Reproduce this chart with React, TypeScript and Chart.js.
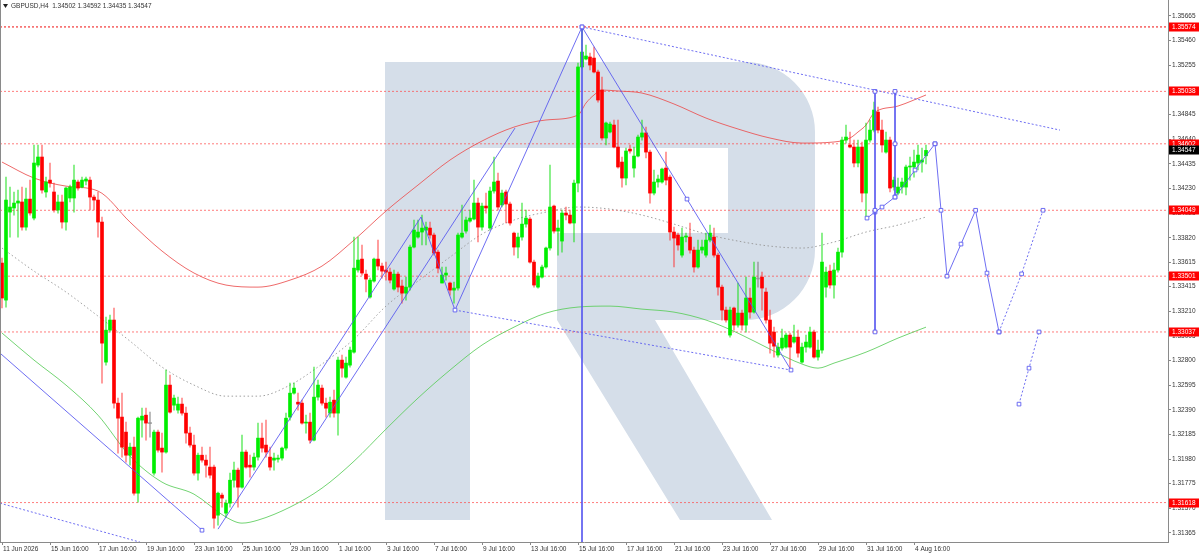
import React, { useEffect, useRef } from "react";
import { Chart, registerables } from "chart.js";

Chart.register(...registerables);

const FONT = "'Liberation Sans', Arial, sans-serif";
const SYMBOL = "GBPUSD,H4";

// ---- candles (H4), first bar = 11 Jun 2026 16:00 ----
const OPEN = [
  1.3361, 1.33302, 1.34034, 1.34068, 1.34109, 1.34118, 1.33909, 1.34142, 1.33984, 1.34425,
  1.34492, 1.34201, 1.343, 1.34201, 1.34051, 1.34118, 1.33951, 1.34151, 1.34151, 1.34284,
  1.34242, 1.34292, 1.343, 1.34159, 1.34134, 1.33951, 1.32786, 1.33052, 1.33136, 1.32445,
  1.32329, 1.32204, 1.32012, 1.32079, 1.31696, 1.32304, 1.32345, 1.32275, 1.31863, 1.32204,
  1.32071, 1.32038, 1.32595, 1.32428, 1.32387, 1.32437, 1.32362, 1.32196, 1.32096, 1.31863,
  1.32012, 1.31971, 1.31913, 1.31913, 1.31513, 1.3168, 1.3153, 1.31613, 1.31804, 1.31888,
  1.31746, 1.32038, 1.31929, 1.31913, 1.31996, 1.32154, 1.32096, 1.31996, 1.31971, 1.31979,
  1.31988, 1.32071, 1.32329, 1.32528, 1.32453, 1.32445, 1.32279, 1.32287, 1.32137, 1.32495,
  1.3257, 1.32445, 1.32362, 1.3247, 1.32362, 1.32803, 1.32661, 1.32761, 1.32869, 1.33552,
  1.33643, 1.33518, 1.33327, 1.3346, 1.33643, 1.33585, 1.33552, 1.33535, 1.33394, 1.33518,
  1.33419, 1.3336, 1.3341, 1.33743, 1.33826, 1.33868, 1.33884, 1.33901, 1.33843, 1.33701,
  1.33444, 1.3351, 1.33444, 1.33385, 1.33402, 1.33826, 1.33876, 1.33959, 1.33976, 1.34109,
  1.33909, 1.34084, 1.33901, 1.34209, 1.34292, 1.34093, 1.34201, 1.34101, 1.33859, 1.33743,
  1.33826, 1.33934, 1.33976, 1.33618, 1.3341, 1.33493, 1.33577, 1.33735, 1.34084, 1.33876,
  1.33793, 1.34026, 1.34009, 1.33943, 1.34275, 1.35241, 1.35307, 1.35324, 1.35315, 1.35199,
  1.35049, 1.3465, 1.347, 1.34758, 1.34575, 1.3445, 1.34317, 1.34558, 1.344, 1.345,
  1.34658, 1.34692, 1.34533, 1.34192, 1.34284, 1.34284, 1.344, 1.34325, 1.33868, 1.33843,
  1.33676, 1.33826, 1.33826, 1.33718, 1.33577, 1.33718, 1.33676, 1.33801, 1.33826, 1.33676,
  1.3341, 1.33219, 1.33011, 1.33236, 1.33094, 1.33194, 1.33094, 1.33319, 1.33202, 1.33477,
  1.33493, 1.33369, 1.33136, 1.33036, 1.32845, 1.32903, 1.32911, 1.33011, 1.32953, 1.32994,
  1.32786, 1.32911, 1.32911, 1.33036, 1.32828, 1.32886, 1.3341, 1.33543, 1.33427, 1.33552,
  1.33701, 1.34633, 1.34592, 1.34575, 1.34442, 1.34575, 1.34192, 1.34633, 1.34716, 1.34866,
  1.34716, 1.34533, 1.34633, 1.34242, 1.34192, 1.34242, 1.34242, 1.34409, 1.34409, 1.34442,
  1.3445, 1.34502,
];
const HIGH = [
  1.33652, 1.34325, 1.34242, 1.34201, 1.34217, 1.34242, 1.34234, 1.343, 1.34592, 1.34592,
  1.34592, 1.34325, 1.34442, 1.34275, 1.34176, 1.34176, 1.34242, 1.34259, 1.34425, 1.343,
  1.34325, 1.34325, 1.34325, 1.34176, 1.34201, 1.33993, 1.33161, 1.33177, 1.33236, 1.32487,
  1.32528, 1.32287, 1.32112, 1.32162, 1.32329, 1.32403, 1.32403, 1.3237, 1.3222, 1.3222,
  1.32196, 1.3272, 1.32678, 1.32512, 1.32495, 1.32487, 1.32412, 1.32245, 1.32179, 1.32029,
  1.32079, 1.32012, 1.32079, 1.31929, 1.31705, 1.31696, 1.31638, 1.31863, 1.31954, 1.31904,
  1.32179, 1.32054, 1.32012, 1.32029, 1.32279, 1.32279, 1.32304, 1.32079, 1.32029, 1.32012,
  1.32079, 1.32362, 1.32611, 1.32611, 1.32528, 1.3247, 1.32345, 1.32362, 1.32745, 1.32636,
  1.32595, 1.32487, 1.32495, 1.32553, 1.32828, 1.32845, 1.32828, 1.32911, 1.33826, 1.33826,
  1.3376, 1.33552, 1.33485, 1.33652, 1.33801, 1.3361, 1.33618, 1.33568, 1.33552, 1.33535,
  1.33468, 1.33493, 1.3376, 1.33968, 1.33968, 1.34009, 1.33951, 1.33951, 1.33859, 1.33718,
  1.33577, 1.33577, 1.33452, 1.33452, 1.33859, 1.34093, 1.33993, 1.34051, 1.343, 1.34151,
  1.34109, 1.34192, 1.34242, 1.34492, 1.34359, 1.34217, 1.34217, 1.34118, 1.33868, 1.33859,
  1.34109, 1.34051, 1.33993, 1.33635, 1.33527, 1.33593, 1.33743, 1.34425, 1.34093, 1.33968,
  1.34051, 1.34076, 1.34051, 1.343, 1.35274, 1.35574, 1.35424, 1.35357, 1.35407, 1.35216,
  1.35157, 1.34783, 1.34783, 1.348, 1.348, 1.34492, 1.34567, 1.34592, 1.34575, 1.34675,
  1.348, 1.34741, 1.3455, 1.34384, 1.34342, 1.344, 1.34533, 1.34342, 1.33909, 1.33859,
  1.33901, 1.33859, 1.33943, 1.33743, 1.33801, 1.33801, 1.33859, 1.33926, 1.33901, 1.33693,
  1.33427, 1.33244, 1.33244, 1.33244, 1.33444, 1.33219, 1.33493, 1.33402, 1.33618, 1.33618,
  1.33535, 1.33402, 1.33219, 1.33077, 1.32944, 1.33061, 1.33027, 1.33027, 1.33094, 1.33052,
  1.32944, 1.33011, 1.33077, 1.33052, 1.32969, 1.33859, 1.33577, 1.33593, 1.3361, 1.33735,
  1.34658, 1.34758, 1.347, 1.34633, 1.34633, 1.34616, 1.34775, 1.348, 1.34949, 1.34908,
  1.348, 1.347, 1.34658, 1.34325, 1.34317, 1.34317, 1.34425, 1.34492, 1.3455, 1.34592,
  1.34567, 1.34592,
];
const LOW = [
  1.33236, 1.33244, 1.33826, 1.34009, 1.33826, 1.33884, 1.33884, 1.34009, 1.33968, 1.34409,
  1.34192, 1.34159, 1.34242, 1.34034, 1.34026, 1.33901, 1.33884, 1.34118, 1.34034, 1.34217,
  1.34234, 1.34259, 1.34051, 1.34051, 1.33826, 1.32611, 1.32761, 1.33036, 1.32403, 1.32029,
  1.31996, 1.31954, 1.31929, 1.3168, 1.31621, 1.32162, 1.32137, 1.32162, 1.31846, 1.32038,
  1.31871, 1.32029, 1.32362, 1.32387, 1.32362, 1.32345, 1.32112, 1.32079, 1.31846, 1.31804,
  1.31954, 1.31829, 1.31821, 1.31405, 1.3143, 1.3158, 1.31497, 1.3158, 1.31746, 1.3158,
  1.31738, 1.31904, 1.31829, 1.31888, 1.31971, 1.32038, 1.31996, 1.31888, 1.31888, 1.31954,
  1.31971, 1.32054, 1.32304, 1.3252, 1.32387, 1.3227, 1.32196, 1.32112, 1.3213, 1.3247,
  1.32428, 1.32329, 1.32329, 1.32329, 1.32179, 1.32661, 1.32653, 1.32745, 1.32861, 1.33535,
  1.3351, 1.33369, 1.33319, 1.33452, 1.33552, 1.33485, 1.33468, 1.33444, 1.33385, 1.33369,
  1.33277, 1.33302, 1.33385, 1.33735, 1.33818, 1.3376, 1.3376, 1.33818, 1.33676, 1.33527,
  1.33444, 1.33468, 1.33344, 1.33277, 1.33385, 1.33818, 1.33859, 1.33951, 1.33968, 1.33785,
  1.33884, 1.34026, 1.33884, 1.34192, 1.34051, 1.34076, 1.33943, 1.33926, 1.33676, 1.33652,
  1.33801, 1.33909, 1.3361, 1.3341, 1.33402, 1.33485, 1.33568, 1.33718, 1.33859, 1.33676,
  1.33701, 1.33968, 1.33935, 1.33785, 1.34201, 1.35232, 1.35299, 1.35216, 1.35191, 1.34949,
  1.34633, 1.34592, 1.34692, 1.34567, 1.344, 1.34242, 1.34259, 1.34525, 1.34325, 1.34492,
  1.34633, 1.34484, 1.34109, 1.34176, 1.34242, 1.34275, 1.34259, 1.33801, 1.33577, 1.33718,
  1.3366, 1.33785, 1.33693, 1.33535, 1.33568, 1.33693, 1.3366, 1.33785, 1.3366, 1.33344,
  1.33136, 1.33119, 1.32994, 1.33052, 1.33077, 1.33052, 1.33036, 1.33152, 1.33194, 1.3341,
  1.33219, 1.33111, 1.32861, 1.32828, 1.32828, 1.32886, 1.32903, 1.32736, 1.32944, 1.32828,
  1.32778, 1.32869, 1.32903, 1.32819, 1.32803, 1.32861, 1.33327, 1.33402, 1.33319, 1.33535,
  1.3366, 1.34608, 1.34567, 1.34409, 1.34409, 1.34118, 1.33984, 1.34616, 1.347, 1.34692,
  1.34533, 1.34525, 1.34201, 1.34217, 1.34176, 1.34192, 1.34176, 1.343, 1.34325, 1.34384,
  1.34367, 1.34435,
];
const CLOSE = [
  1.33319, 1.34134, 1.34076, 1.34109, 1.34126, 1.33909, 1.34142, 1.34026, 1.34442, 1.34492,
  1.34217, 1.34284, 1.34275, 1.34051, 1.34118, 1.33951, 1.34234, 1.34242, 1.343, 1.34234,
  1.343, 1.34309, 1.34159, 1.34134, 1.33951, 1.32944, 1.33052, 1.33136, 1.32445, 1.3232,
  1.32079, 1.32012, 1.32079, 1.31696, 1.3232, 1.32337, 1.32279, 1.32275, 1.32204, 1.32054,
  1.32038, 1.32595, 1.3237, 1.32487, 1.32437, 1.32362, 1.32196, 1.32096, 1.31863, 1.32012,
  1.31971, 1.31929, 1.31846, 1.31488, 1.31696, 1.31655, 1.31613, 1.31804, 1.31888, 1.31746,
  1.32038, 1.31913, 1.31913, 1.31996, 1.32154, 1.32071, 1.32038, 1.31913, 1.31988, 1.31988,
  1.32071, 1.3232, 1.32528, 1.3257, 1.32437, 1.32279, 1.32287, 1.32137, 1.32495, 1.32595,
  1.32445, 1.32403, 1.32453, 1.32362, 1.32803, 1.32736, 1.32778, 1.32886, 1.33568, 1.33635,
  1.33527, 1.33477, 1.33468, 1.33643, 1.33585, 1.33543, 1.33535, 1.33468, 1.33518, 1.3341,
  1.3336, 1.3341, 1.33743, 1.33884, 1.33868, 1.33901, 1.33909, 1.33843, 1.33693, 1.33568,
  1.3351, 1.33527, 1.33385, 1.33402, 1.33843, 1.33859, 1.33968, 1.33984, 1.34109, 1.33909,
  1.34084, 1.34068, 1.34209, 1.34284, 1.34076, 1.34192, 1.34101, 1.33943, 1.33743, 1.33826,
  1.33934, 1.33984, 1.33618, 1.33427, 1.33502, 1.33577, 1.33735, 1.34076, 1.33876, 1.33901,
  1.34026, 1.34009, 1.33943, 1.34275, 1.35241, 1.35365, 1.35332, 1.35257, 1.35199, 1.34966,
  1.3465, 1.34775, 1.34766, 1.34575, 1.34409, 1.34317, 1.34542, 1.34542, 1.345, 1.34658,
  1.34692, 1.34533, 1.34192, 1.34284, 1.34309, 1.34392, 1.343, 1.33868, 1.33818, 1.3376,
  1.33826, 1.33835, 1.33718, 1.33577, 1.33718, 1.33743, 1.33801, 1.33859, 1.33676, 1.3341,
  1.33219, 1.33136, 1.33219, 1.33094, 1.33194, 1.33094, 1.33319, 1.33202, 1.33493, 1.33477,
  1.33402, 1.33136, 1.32944, 1.32919, 1.32911, 1.32986, 1.33011, 1.32911, 1.32994, 1.32861,
  1.32911, 1.32953, 1.33036, 1.32828, 1.32886, 1.33618, 1.33535, 1.33427, 1.33552, 1.33701,
  1.34633, 1.34658, 1.34575, 1.34442, 1.34575, 1.34192, 1.34633, 1.34716, 1.34883, 1.34716,
  1.34592, 1.34633, 1.34234, 1.343, 1.34242, 1.34284, 1.34409, 1.34417, 1.3445, 1.34508,
  1.34467, 1.34547,
];

// ---- time axis ----
const SLOTS = 292; // bar slots across the plot incl. empty future space
const LABEL_STEP = 12;
const X_LABELS = [
  "11 Jun 2026", "15 Jun 16:00", "17 Jun 16:00", "19 Jun 16:00", "23 Jun 16:00",
  "25 Jun 16:00", "29 Jun 16:00", "1 Jul 16:00", "3 Jul 16:00", "7 Jul 16:00",
  "9 Jul 16:00", "13 Jul 16:00", "15 Jul 16:00", "17 Jul 16:00", "21 Jul 16:00",
  "23 Jul 16:00", "27 Jul 16:00", "29 Jul 16:00", "31 Jul 16:00", "4 Aug 16:00",
];

// ---- price axis ----
const Y_MIN = 1.3129;
const Y_MAX = 1.35798;
const Y_TICKS = [
  1.35665, 1.3546, 1.35255, 1.3505, 1.34845, 1.3464, 1.34435, 1.3423, 1.34025, 1.3382, 1.33615,
  1.33415, 1.3321, 1.33005, 1.328, 1.32595, 1.3239, 1.32185, 1.3198, 1.31775, 1.3157, 1.31365,
];
const LEVELS = [1.35574, 1.35038, 1.34602, 1.34049, 1.33501, 1.33037, 1.31618];

// ---- moving averages (sampled) ----
const MA_RED_IDX = [0, 8, 16, 24, 32, 40, 48, 56, 64, 72, 80, 88, 96, 104, 112, 120, 128, 136, 144, 146, 148, 150, 154, 160, 168, 176, 184, 192, 200, 208, 212, 214, 216, 218, 224, 231];
const MA_RED = [1.3445, 1.34317, 1.3425, 1.34209, 1.33951, 1.3371, 1.33527, 1.33427, 1.3341, 1.33468, 1.33585, 1.33801, 1.34043, 1.34259, 1.34467, 1.34625, 1.34741, 1.348, 1.34841, 1.34941, 1.35008, 1.35049, 1.35041, 1.35024, 1.34933, 1.34816, 1.34725, 1.3465, 1.34608, 1.34617, 1.3465, 1.347, 1.34758, 1.34858, 1.34916, 1.35008];
const MA_GREEN_IDX = [0, 8, 16, 24, 32, 40, 48, 56, 60, 64, 72, 80, 88, 96, 104, 112, 120, 128, 136, 144, 152, 160, 168, 176, 184, 192, 200, 204, 208, 216, 224, 231];
const MA_GREEN = [1.33028, 1.32803, 1.32595, 1.32345, 1.32004, 1.31788, 1.31688, 1.31497, 1.31447, 1.31472, 1.3158, 1.31738, 1.31962, 1.32229, 1.32487, 1.3272, 1.32928, 1.33077, 1.33194, 1.33244, 1.33252, 1.33227, 1.33202, 1.33136, 1.33027, 1.32894, 1.3277, 1.32736, 1.32778, 1.32869, 1.32986, 1.33077];
const MA_GRAY_IDX = [0, 8, 16, 24, 32, 40, 48, 56, 64, 72, 80, 88, 96, 104, 112, 120, 128, 136, 144, 152, 160, 168, 176, 184, 192, 200, 208, 216, 224, 231];
const MA_GRAY = [1.33735, 1.33543, 1.33369, 1.33169, 1.32961, 1.32745, 1.32595, 1.32503, 1.32503, 1.32595, 1.3277, 1.32978, 1.33252, 1.3346, 1.3366, 1.33851, 1.33968, 1.34034, 1.34076, 1.34059, 1.34009, 1.33934, 1.33851, 1.33793, 1.33751, 1.33735, 1.33785, 1.33868, 1.33926, 1.33993];

// ---- analyst drawings: [bar index, price] ----
const TREND_DOWN = [[-0.5, 1.32861], [50, 1.31388]];
const TREND_DOWN_DOT = [[-0.5, 1.31613], [34.5, 1.31289]];
const WAVE = [[54, 1.31397], [104.75, 1.33993], [113.25, 1.33219], [145, 1.35574], [171.25, 1.34142], [197.25, 1.3272]];
const WAVE_MARK = [0, 0, 2.6, 2.6, 2.6, 2.6];
const TREND_UP = [[77, 1.32112], [128.25, 1.34733]];
const CHANNEL_LOW = [[113.25, 1.33219], [197.25, 1.3272]];
const CHANNEL_HIGH = [[145, 1.35574], [264.5, 1.34716]];
const PEAK_LINE = [[145, 1.35574], [145, Y_MIN]];
const RANGE_A = [[218.25, 1.35038], [218.25, 1.34049], [218.25, 1.33037]];
const RANGE_B = [[223.25, 1.35038], [223.25, 1.34602], [223.25, 1.34159]];
const RISE = [[216.25, 1.33984], [218.25, 1.34034], [220, 1.34076], [223.25, 1.34159], [228.25, 1.34384], [233.25, 1.34602]];
const FORECAST = [[233.25, 1.34602], [234.75, 1.34049], [236.25, 1.33501], [239.75, 1.33768], [243.4, 1.34049], [246.25, 1.33527], [249.25, 1.33037]];
const FORECAST_ALT = [[249.25, 1.33037], [254.9, 1.3352], [260.25, 1.34049]];
const FORECAST_ALT2 = [[254.25, 1.32437], [256.75, 1.32736], [259.25, 1.33037]];

const GREEN = "#00ee00";
const RED = "#ff0000";
const BLUE = "rgba(85,85,240,0.85)";

const pts = (arr: number[][]) => arr.map(([x, y]) => ({ x, y }));

export default function App() {
  const ref = useRef<HTMLCanvasElement>(null);

  useEffect(() => {
    document.body.style.margin = "0";
    const canvas = ref.current;
    if (!canvas) return;

    const n = OPEN.length;
    const wickData = OPEN.map((_, i) => ({ x: i, y: [LOW[i], HIGH[i]] }));
    const bodyData = OPEN.map((o, i) => ({ x: i, y: [o, CLOSE[i]] }));
    const bodyColors = OPEN.map((o, i) => (CLOSE[i] > o ? GREEN : CLOSE[i] < o ? RED : "#999999"));
    const wickColors = OPEN.map((o, i) =>
      CLOSE[i] > o ? "rgba(0,220,0,0.55)" : CLOSE[i] < o ? "rgba(255,40,40,0.55)" : "rgba(120,120,120,0.6)"
    );

    const blueLine = (data: number[][], dashed: boolean, radius: number | number[], order = 1) => ({
      type: "line" as const,
      data: pts(data),
      borderColor: BLUE,
      borderWidth: 1,
      borderDash: dashed ? [2, 2] : [],
      pointRadius: radius,
      pointStyle: "rect" as const,
      pointBackgroundColor: "#ffffff",
      pointBorderColor: BLUE,
      pointBorderWidth: 1,
      tension: 0,
      order,
    });

    const levelSets = LEVELS.map((v, k) => ({
      type: "line" as const,
      data: [{ x: -0.5, y: v }, { x: SLOTS - 0.5, y: v }],
      borderColor: k === 0 ? "rgba(240,0,0,0.95)" : "rgba(255,70,70,0.7)",
      borderWidth: 1,
      borderDash: [2, 2],
      pointRadius: 0,
      order: 6,
    }));

    const maSet = (idx: number[], vals: number[], color: string, dash: number[]) => ({
      type: "line" as const,
      data: idx.map((x, k) => ({ x, y: vals[k] })),
      borderColor: color,
      borderWidth: 1,
      borderDash: dash,
      pointRadius: 0,
      tension: 0.4,
      cubicInterpolationMode: "monotone" as const,
      order: 5,
    });

    const watermark = {
      id: "watermark",
      beforeDatasetsDraw(chart: any) {
        const { ctx, chartArea: a } = chart;
        const sx = (a.right - a.left) / 1168;
        const sy = (a.bottom - a.top) / 542;
        const X = (v: number) => a.left + v * sx;
        const Y = (v: number) => a.top + v * sy;
        ctx.save();
        ctx.fillStyle = "#d5dee9";
        ctx.fillRect(X(385), Y(62), 85 * sx, 458 * sy);
        ctx.beginPath();
        ctx.moveTo(X(470), Y(62));
        ctx.lineTo(X(745), Y(62));
        ctx.arcTo(X(815), Y(62), X(815), Y(132), 70 * sx);
        ctx.lineTo(X(815), Y(250));
        ctx.arcTo(X(815), Y(320), X(745), Y(320), 70 * sx);
        ctx.lineTo(X(655), Y(320));
        ctx.lineTo(X(772), Y(520));
        ctx.lineTo(X(680), Y(520));
        ctx.lineTo(X(557), Y(320));
        ctx.lineTo(X(557), Y(233));
        ctx.lineTo(X(728), Y(233));
        ctx.lineTo(X(728), Y(148));
        ctx.lineTo(X(470), Y(148));
        ctx.closePath();
        ctx.fill();
        ctx.restore();
      },
    };

    const overlay = {
      id: "overlay",
      afterDraw(chart: any) {
        const { ctx, chartArea: a, scales } = chart;
        const y = scales.y;
        ctx.save();
        ctx.strokeStyle = "#8a8a8a";
        ctx.lineWidth = 1;
        ctx.beginPath();
        ctx.moveTo(a.left + 0.5, a.top);
        ctx.lineTo(a.left + 0.5, a.bottom);
        ctx.stroke();

        ctx.font = `6.5px ${FONT}`;
        ctx.textBaseline = "middle";
        ctx.textAlign = "left";
        const box = (v: number, bg: string) => {
          const py = Math.round(y.getPixelForValue(v));
          ctx.fillStyle = bg;
          ctx.fillRect(a.right + 1, py - 4.5, 30, 9);
          ctx.fillStyle = "#ffffff";
          ctx.fillText(v.toFixed(5), a.right + 4, py + 0.5);
        };
        LEVELS.forEach((v) => box(v, "#ff0000"));
        box(CLOSE[n - 1], "#000000");

        ctx.fillStyle = "#222";
        ctx.beginPath();
        ctx.moveTo(a.left + 3, a.top + 4);
        ctx.lineTo(a.left + 8, a.top + 4);
        ctx.lineTo(a.left + 5.5, a.top + 8);
        ctx.closePath();
        ctx.fill();
        ctx.fillStyle = "#333";
        const txt = `${SYMBOL}  ${OPEN[n - 1].toFixed(5)} ${HIGH[n - 1].toFixed(5)} ${LOW[n - 1].toFixed(5)} ${CLOSE[n - 1].toFixed(5)}`;
        ctx.fillText(txt, a.left + 11, a.top + 6.5);
        ctx.restore();
      },
    };

    const chart = new Chart(canvas, {
      type: "bar",
      data: {
        datasets: [
          blueLine(WAVE, false, WAVE_MARK),
          blueLine(TREND_DOWN, false, [0, 2.6]),
          blueLine(TREND_DOWN_DOT, true, 0),
          blueLine(TREND_UP, false, 0),
          blueLine(CHANNEL_LOW, true, 0),
          blueLine(CHANNEL_HIGH, true, 0),
          blueLine(PEAK_LINE, false, [2.6, 0]),
          blueLine(RANGE_A, false, 2.6),
          blueLine(RANGE_B, false, 2.6),
          blueLine(RISE, false, 2.6),
          blueLine(FORECAST, false, 2.6),
          blueLine(FORECAST_ALT, true, 2.6),
          blueLine(FORECAST_ALT2, true, 2.6),
          {
            type: "bar",
            data: bodyData as any,
            backgroundColor: bodyColors,
            barThickness: 3,
            minBarLength: 1,
            stack: "c",
            order: 2,
          },
          {
            type: "bar",
            data: wickData as any,
            backgroundColor: wickColors,
            barThickness: 1,
            stack: "c",
            order: 3,
          },
          maSet(MA_RED_IDX, MA_RED, "rgba(235,80,80,0.85)", []),
          maSet(MA_GREEN_IDX, MA_GREEN, "rgba(90,205,90,0.85)", []),
          maSet(MA_GRAY_IDX, MA_GRAY, "rgba(150,150,150,0.9)", [1.5, 2.5]),
          ...levelSets,
        ] as any,
      },
      options: {
        animation: false,
        responsive: true,
        maintainAspectRatio: false,
        events: [],
        layout: { padding: 0, autoPadding: false },
        plugins: { legend: { display: false }, tooltip: { enabled: false } },
        scales: {
          x: {
            type: "linear",
            position: "bottom",
            min: -0.5,
            max: SLOTS - 0.5,
            offset: false,
            bounds: "data",
            afterBuildTicks: (s: any) => {
              s.ticks = X_LABELS.map((_, k) => ({ value: k * LABEL_STEP }));
            },
            afterFit: (s: any) => {
              s.height = 13;
              s.paddingLeft = 0;
              s.paddingRight = 0;
              s.paddingTop = 0;
              s.paddingBottom = 0;
            },
            ticks: {
              autoSkip: false,
              maxRotation: 0,
              minRotation: 0,
              align: "start",
              labelOffset: 1,
              padding: 0,
              color: "#333",
              font: { family: FONT, size: 6.5 },
              callback: (v: any) => X_LABELS[Math.round(Number(v) / LABEL_STEP)] ?? "",
            },
            grid: { drawOnChartArea: false, drawTicks: true, tickLength: 3, color: "#888", offset: false },
            border: { display: true, color: "#8a8a8a" },
          },
          y: {
            type: "linear",
            position: "right",
            min: Y_MIN,
            max: Y_MAX,
            stacked: false,
            bounds: "data",
            afterBuildTicks: (s: any) => {
              s.ticks = Y_TICKS.map((v) => ({ value: v }));
            },
            afterFit: (s: any) => {
              s.width = 32;
              s.paddingLeft = 0;
              s.paddingRight = 0;
              s.paddingTop = 0;
              s.paddingBottom = 0;
            },
            ticks: {
              padding: 1,
              crossAlign: "near",
              color: "#333",
              font: { family: FONT, size: 6.5 },
              callback: (v: any) => Number(v).toFixed(5),
            },
            grid: { drawOnChartArea: false, drawTicks: true, tickLength: 3, color: "#888" },
            border: { display: true, color: "#8a8a8a" },
          },
        },
      } as any,
      plugins: [watermark, overlay],
    });

    return () => chart.destroy();
  }, []);

  return (
    <div style={{ width: 1200, height: 555, position: "relative" }}>
      <canvas ref={ref} />
    </div>
  );
}
